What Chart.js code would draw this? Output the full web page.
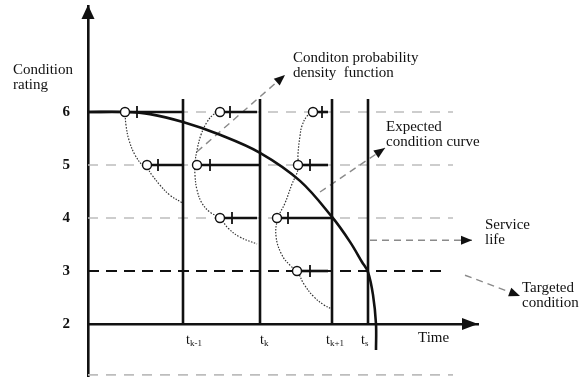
<!DOCTYPE html>
<html>
<head>
<meta charset="utf-8">
<script src="https://cdn.jsdelivr.net/npm/chart.js@4.4.1/dist/chart.umd.min.js"></script>
<style>
html, body { margin: 0; padding: 0; background: #fff; }
#wrap { width: 579px; height: 377px; }
</style>
</head>
<body>
<div id="wrap"><canvas id="myChart"></canvas></div>
<script>
// Nilai sumbu
const ratingTicks = [2, 3, 4, 5, 6];
const timeTicks = [9.5, 17.2, 24.4, 28.0];
const timeSubs = ['k-1', 'k', 'k+1', 's'];
const lineTop = 6.245;

// Kurva kondisi yang diharapkan
const curveTime = [0, 3.7, 6.2, 9.5, 13.2, 17.2, 21.2, 24.4, 26.2, 27.4, 28.0, 28.5, 28.8, 28.8];
const curveRating = [6, 6, 5.96, 5.81, 5.57, 5.23, 4.70, 4.02, 3.55, 3.17, 2.98, 2.55, 2.0, 1.51];

// Kurva densitas probabilitas (titik-titik)
const pdf1Time = [3.7, 3.8, 4.1, 4.7, 5.5, 5.9, 6.4, 7.2, 8.2, 9.5];
const pdf1Rating = [6.0, 5.75, 5.47, 5.19, 4.98, 4.94, 4.81, 4.62, 4.43, 4.28];
const pdf2Time = [13.2, 12.6, 11.9, 11.3, 10.9, 10.7, 10.7, 10.9, 11.4, 12.2, 13.2, 14.0, 15.2, 16.9];
const pdf2Rating = [6.0, 5.96, 5.81, 5.57, 5.28, 5.04, 4.81, 4.53, 4.28, 4.11, 4.0, 3.81, 3.64, 3.51];
const pdf3Time = [22.5, 21.9, 21.4, 21.2, 21.0, 21.0, 20.4, 19.7, 19.0, 18.8, 19.4, 20.3, 20.9, 21.6, 22.6, 23.6, 24.4];
const pdf3Rating = [6.0, 5.92, 5.74, 5.55, 5.2, 4.92, 4.64, 4.28, 4.0, 3.66, 3.30, 3.09, 3.0, 2.75, 2.51, 2.36, 2.28];

// Lingkaran, tanda dan batang horizontal
const circleTime = [3.7, 5.9, 13.2, 10.9, 13.2, 22.5, 21.0, 18.9, 20.9];
const circleRating = [6, 5, 6, 5, 4, 6, 5, 4, 3];
const markTime = [4.9, 7.0, 14.2, 12.2, 14.4, 23.4, 22.2, 20.0, 22.2];
const barStart = [0, 5.9, 13.2, 10.9, 13.2, 22.5, 21.0, 18.9, 20.9];
const barEnd = [9.5, 9.5, 16.9, 17.2, 16.9, 24.0, 24.0, 24.4, 24.0];

// Garis bantu
const gridLevels = [6, 5, 4, 1.04];
const gridEnd = 36.5;
const targetRating = 3;
const targetEnd = 35.9;

// Panah keterangan
const pointerFromTime = [10.9, 23.2, 28.2, 37.7];
const pointerFromRating = [5.25, 4.49, 3.58, 2.92];
const pointerToTime = [19.7, 29.7, 38.4, 43.2];
const pointerToRating = [6.70, 5.32, 3.58, 2.53];

const FONT = "'Liberation Serif', 'DejaVu Serif', serif";
const zip = (xs, ys) => xs.map((x, i) => ({ x: x, y: ys[i] }));

const datasets = [];

// lingkaran terbuka
datasets.push({
    data: zip(circleTime, circleRating),
    showLine: false, pointStyle: 'circle', pointRadius: 4.5,
    pointBackgroundColor: '#fff', pointBorderColor: '#111', pointBorderWidth: 1.4,
    order: 0
});
// tanda vertikal
datasets.push({
    data: zip(markTime, circleRating),
    showLine: false, pointStyle: 'line', rotation: 90, pointRadius: 6,
    pointBorderColor: '#111', pointBorderWidth: 1.8,
    order: 1
});
// batang horizontal
barStart.forEach((s, i) => {
    datasets.push({
        data: [{ x: s, y: circleRating[i] }, { x: barEnd[i], y: circleRating[i] }],
        showLine: true, borderColor: '#111', borderWidth: 2.6, pointRadius: 0, order: 2
    });
});
// kurva kondisi
datasets.push({
    data: zip(curveTime, curveRating),
    showLine: true, borderColor: '#111', borderWidth: 2.6, pointRadius: 0,
    tension: 0.35, clip: false, order: 2
});
// kurva densitas
[[pdf1Time, pdf1Rating], [pdf2Time, pdf2Rating], [pdf3Time, pdf3Rating]].forEach(p => {
    datasets.push({
        data: zip(p[0], p[1]),
        showLine: true, borderColor: '#333', borderWidth: 1.2, borderDash: [1.5, 1.5],
        pointRadius: 0, tension: 0.4, order: 3
    });
});
// garis waktu vertikal
timeTicks.forEach(t => {
    datasets.push({
        data: [{ x: t, y: 2 }, { x: t, y: lineTop }],
        showLine: true, borderColor: '#111', borderWidth: 2.6, pointRadius: 0, order: 2
    });
});
// garis bantu abu-abu
gridLevels.forEach(g => {
    datasets.push({
        data: [{ x: 0, y: g }, { x: gridEnd, y: g }],
        showLine: true, borderColor: '#bdbdbd', borderWidth: 1.6, borderDash: [10, 8],
        pointRadius: 0, clip: false, order: 5
    });
});
// kondisi target
datasets.push({
    data: [{ x: 0, y: targetRating }, { x: targetEnd, y: targetRating }],
    showLine: true, borderColor: '#111', borderWidth: 2, borderDash: [11, 7],
    pointRadius: 0, order: 4
});
// panah keterangan
pointerFromTime.forEach((t, i) => {
    datasets.push({
        data: [{ x: t, y: pointerFromRating[i] }, { x: pointerToTime[i], y: pointerToRating[i] }],
        showLine: true, borderColor: '#8a8a8a', borderWidth: 1.4, borderDash: [7, 5],
        pointRadius: 0, clip: false, arrow: true, order: 4
    });
});

// plugin untuk panah, label dan teks
const decorPlugin = {
    id: 'decor',
    afterDatasetsDraw(chart) {
        const ctx = chart.ctx;
        const xs = chart.scales.x, ys = chart.scales.y;
        const area = chart.chartArea;

        function head(x1, y1, x2, y2, len, half) {
            const a = Math.atan2(y2 - y1, x2 - x1);
            ctx.beginPath();
            ctx.moveTo(x2, y2);
            ctx.lineTo(x2 - len * Math.cos(a) + half * Math.sin(a), y2 - len * Math.sin(a) - half * Math.cos(a));
            ctx.lineTo(x2 - len * Math.cos(a) - half * Math.sin(a), y2 - len * Math.sin(a) + half * Math.cos(a));
            ctx.closePath();
            ctx.fill();
        }

        ctx.save();
        ctx.fillStyle = '#111';
        chart.data.datasets.forEach(ds => {
            if (!ds.arrow) return;
            const p = ds.data;
            head(xs.getPixelForValue(p[0].x), ys.getPixelForValue(p[0].y),
                 xs.getPixelForValue(p[1].x), ys.getPixelForValue(p[1].y), 11, 4.5);
        });
        // panah sumbu
        const y2 = ys.getPixelForValue(2);
        head(area.left, area.top + 30, area.left, area.top - 1, 14, 6.5);
        head(area.right - 30, y2, area.right, y2, 16, 6);

        // label waktu dengan subskrip
        const shift = [3, 0, -6, -7];
        ctx.textBaseline = 'middle';
        ctx.textAlign = 'left';
        timeTicks.forEach((t, i) => {
            const x = xs.getPixelForValue(t) + shift[i];
            ctx.font = '14px ' + FONT;
            ctx.fillText('t', x, y2 + 16);
            const w = ctx.measureText('t').width;
            ctx.font = '9px ' + FONT;
            ctx.fillText(timeSubs[i], x + w, y2 + 20);
        });

        ctx.font = '15px ' + FONT;
        const notes = [
            ['Condition', 13, 70], ['rating', 13, 85],
            ['Conditon probability', 293, 58], ['density  function', 293, 73],
            ['Expected', 386, 127], ['condition curve', 386, 142],
            ['Service', 485, 225], ['life', 485, 240],
            ['Targeted', 522, 288], ['condition', 522, 303],
            ['Time', 418, 338]
        ];
        notes.forEach(n => ctx.fillText(n[0], n[1], n[2]));
        ctx.restore();
    }
};

const config = {
    type: 'scatter',
    data: { datasets: datasets },
    options: {
        responsive: true,
        maintainAspectRatio: false,
        animation: false,
        layout: { autoPadding: false, padding: { top: 6, right: 101, bottom: 0, left: 0 } },
        plugins: { legend: { display: false }, tooltip: { enabled: false } },
        scales: {
            x: {
                type: 'linear', min: 0, max: 39,
                position: { y: 2 },
                grid: { display: false, drawTicks: false },
                border: { display: true, color: '#111', width: 2.6 },
                ticks: { display: false },
                afterFit: s => { s.height = 0; s.paddingLeft = 0; s.paddingRight = 0; s.paddingTop = 0; s.paddingBottom = 0; }
            },
            y: {
                type: 'linear', min: 1, max: 8,
                position: 'left',
                grid: { display: false, drawTicks: false },
                border: { display: true, color: '#111', width: 2.6 },
                afterBuildTicks: s => { s.ticks = ratingTicks.map(v => ({ value: v })); },
                afterFit: s => { s.width = 88; s.paddingTop = 0; s.paddingBottom = 0; },
                ticks: {
                    padding: 18, color: '#111',
                    font: { family: FONT, size: 15, weight: 'bold' }
                }
            }
        }
    },
    plugins: [decorPlugin]
};

new Chart(document.getElementById('myChart').getContext('2d'), config);
</script>
</body>
</html>
